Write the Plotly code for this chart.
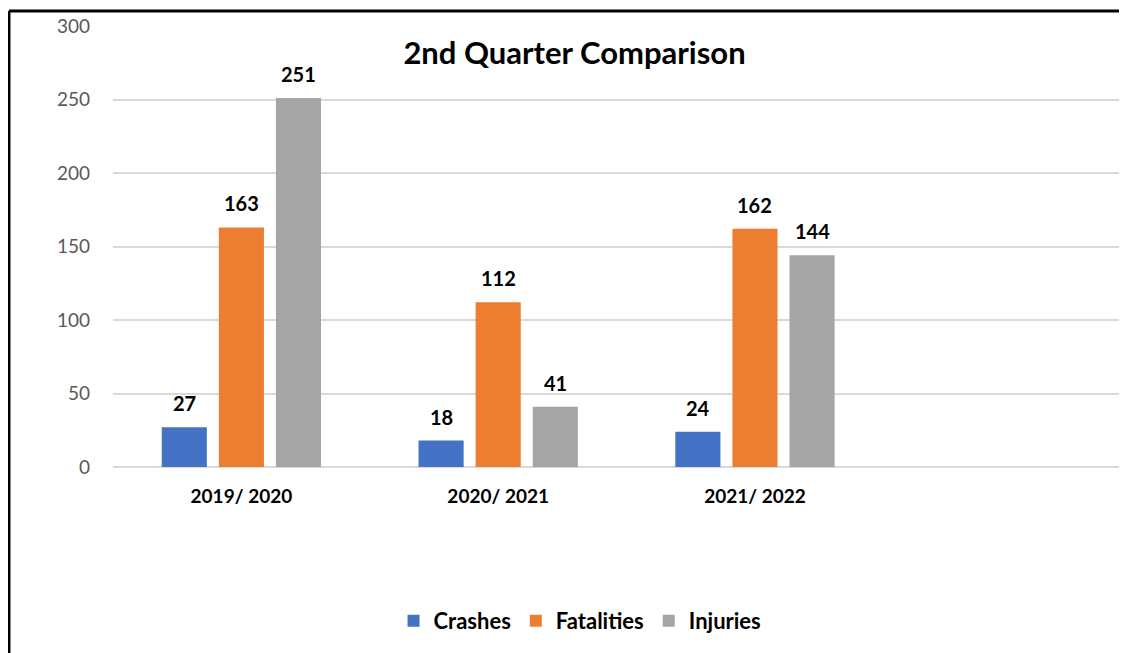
import plotly.graph_objects as go

periods = ["2019/ 2020", "2020/ 2021", "2021/ 2022"]
crashes = [27, 18, 24]
fatalities = [163, 112, 162]
injuries = [251, 41, 144]

series = [
    ("Crashes", crashes, "#4472c4"),
    ("Fatalities", fatalities, "#ed7d31"),
    ("Injuries", injuries, "#a5a5a5"),
]

FONT = "Lato"
BARGAP = 0.333
xpos = list(range(len(periods)))

fig = go.Figure()
for name, vals, color in series:
    fig.add_trace(go.Bar(
        x=xpos, y=vals, name="<b>%s</b>" % name,
        marker=dict(color=color, line=dict(width=0)),
    ))

# value labels sit a bit higher than plotly's "outside" text, so use annotations
slot = (1 - BARGAP) / len(series)
labels = []
for k, (name, vals, color) in enumerate(series):
    for i, v in enumerate(vals):
        labels.append(dict(
            x=xpos[i] + (k - 1) * slot, y=v, text="<b>%d</b>" % v,
            showarrow=False, yanchor="bottom", yshift=10,
            font=dict(family=FONT, size=20, color="#000000"),
        ))

# page body has an 8px margin, so the plot is laid out 8px up/left
fig.update_layout(
    width=1127, height=653,
    margin=dict(l=105, r=0, t=18, b=194),
    paper_bgcolor="white", plot_bgcolor="white",
    barmode="group", bargap=BARGAP, bargroupgap=0.21,
    title=dict(text="<b>2nd Quarter Comparison</b>", x=0.5027, xanchor="center",
               y=0.931, yanchor="middle",
               font=dict(family=FONT, size=31, color="#000000")),
    xaxis=dict(range=[-0.5, 3.48], tickvals=xpos, ticktext=["<b>%s</b>" % p for p in periods],
               showgrid=False, zeroline=False, showline=False, ticks="",
               ticklabelstandoff=16,
               tickfont=dict(family=FONT, size=19, color="#000000")),
    yaxis=dict(range=[0, 300], dtick=50, showgrid=True, gridcolor="#d9d9d9", gridwidth=1.5,
               zeroline=True, zerolinecolor="#d9d9d9", zerolinewidth=1.5,
               ticks="", ticklabelstandoff=22,
               tickfont=dict(family=FONT, size=19, color="#595959")),
    legend=dict(orientation="h", x=0.457, xanchor="center", y=-0.349, yanchor="middle",
                font=dict(family=FONT, size=22, color="#000000"),
                traceorder="normal", itemwidth=30),
    showlegend=True,
    annotations=labels,
    shapes=[
        dict(type="line", xref="paper", yref="paper", x0=-0.1018, x1=-0.1018, y0=1.034, y1=-0.45,
             line=dict(color="#000000", width=3)),
        dict(type="line", xref="paper", yref="paper", x0=-0.1018, x1=1.01, y0=1.034, y1=1.034,
             line=dict(color="#000000", width=3)),
    ],
)

fig.write_html("out.html")
